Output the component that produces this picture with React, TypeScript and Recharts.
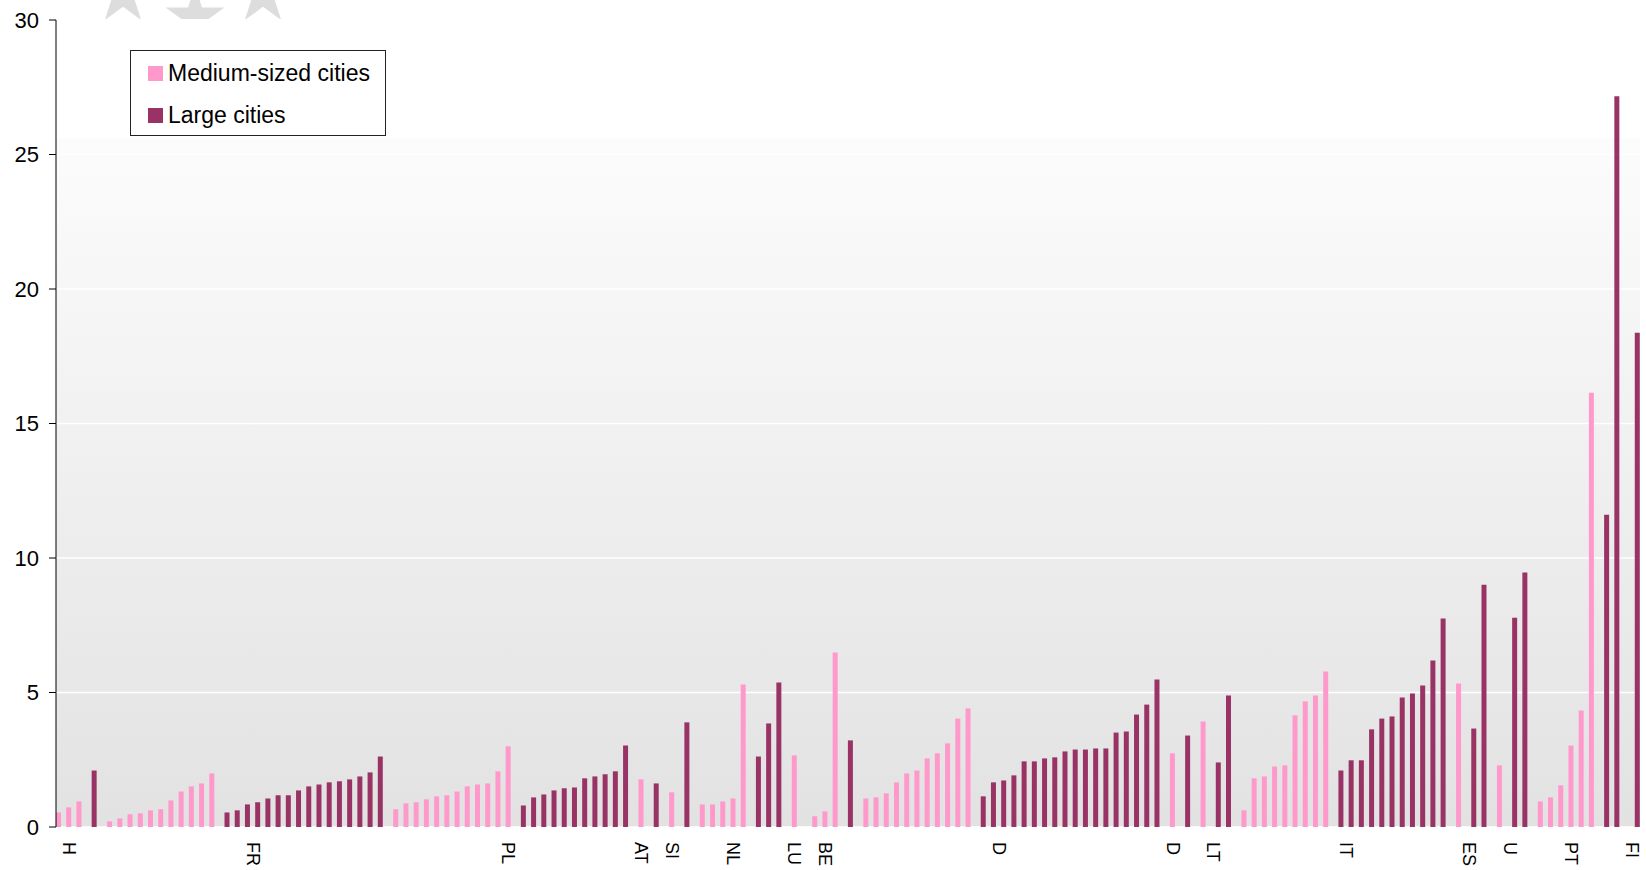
import React from 'react';
import { BarChart, Bar, XAxis, YAxis, CartesianGrid, Legend } from 'recharts';

// country groups, left to right
const countries = ['H', 'FR', 'PL', 'AT', 'SI', 'NL', 'LU', 'BE', 'D', 'D', 'LT', 'IT', 'ES', 'U', 'PT', 'FI'];
// which bar of the group carries the country label
const labelSlot = [1, 14, 11, 0, 0, 3, 0, 1, 13, 0, 1, 10, 1, 1, 3, 0];

const mediumCities: number[][] = [
  [0.54, 0.73, 0.95],
  [0.21, 0.32, 0.47, 0.51, 0.62, 0.66, 0.99, 1.32, 1.51, 1.62, 1.99],
  [0.66, 0.88, 0.92, 1.03, 1.14, 1.18, 1.32, 1.51, 1.58, 1.62, 2.07, 3.0],
  [1.77],
  [1.29],
  [0.84, 0.84, 0.95, 1.06, 5.3],
  [2.66],
  [0.4, 0.58, 6.49],
  [1.06, 1.1, 1.25, 1.66, 1.99, 2.1, 2.55, 2.74, 3.11, 4.03, 4.41],
  [2.74],
  [3.92],
  [0.62, 1.81, 1.88, 2.25, 2.29, 4.15, 4.67, 4.89, 5.78],
  [5.33],
  [2.29],
  [0.95, 1.1, 1.55, 3.03, 4.33, 16.14],
  [],
];

const largeCities: number[][] = [
  [2.1],
  [0.54, 0.62, 0.84, 0.92, 1.06, 1.18, 1.18, 1.36, 1.51, 1.58, 1.66, 1.7, 1.77, 1.88, 2.03, 2.62],
  [0.8, 1.1, 1.21, 1.36, 1.44, 1.47, 1.81, 1.88, 1.96, 2.07, 3.03],
  [1.62],
  [3.89],
  [2.62, 3.85, 5.37],
  [],
  [3.22],
  [1.14, 1.66, 1.73, 1.92, 2.44, 2.44, 2.55, 2.59, 2.81, 2.88, 2.88, 2.92, 2.92, 3.51, 3.55, 4.18, 4.55, 5.48],
  [3.4],
  [2.4, 4.89],
  [2.1, 2.48, 2.48, 3.63, 4.03, 4.11, 4.81, 4.96, 5.26, 6.19, 7.75],
  [3.66, 9.01],
  [7.78, 9.46],
  [11.61, 27.17],
  [18.37],
];

const yTicks = [0, 5, 10, 15, 20, 25, 30];

type Row = { label: string; medium: number | null; large: number | null };

// one bar per row, an empty row between countries
const rows: Row[] = [];
countries.forEach((c, g) => {
  const start = rows.length;
  mediumCities[g].forEach((v) => rows.push({ label: '', medium: v, large: null }));
  largeCities[g].forEach((v) => rows.push({ label: '', medium: null, large: v }));
  rows[start + labelSlot[g]].label = c;
  if (g < countries.length - 1) rows.push({ label: '', medium: null, large: null });
});

const FONT = '"Liberation Sans", Arial, sans-serif';
const PINK = '#ff99cc';
const PLUM = '#993366';

const CountryTick = ({ x, y, payload }: any) => {
  if (!payload || !payload.value) return <g />;
  const ty = y + 7;
  return (
    <text
      x={x}
      y={ty}
      dy={8.5}
      transform={`rotate(90 ${x} ${ty})`}
      textAnchor="start"
      fontSize={18}
      fontFamily={FONT}
      fill="#000"
    >
      {payload.value}
    </text>
  );
};

const LegendBox = () => (
  <svg width={256} height={86} style={{ display: 'block' }}>
    <rect x={0.5} y={0.5} width={255} height={85} fill="#fff" stroke="#222" />
    <rect x={18} y={16} width={15} height={15} fill={PINK} />
    <text x={38} y={31} fontSize={23} fontFamily={FONT} fill="#000">Medium-sized cities</text>
    <rect x={18} y={58} width={15} height={15} fill={PLUM} />
    <text x={38} y={73} fontSize={23} fontFamily={FONT} fill="#000">Large cities</text>
  </svg>
);

// bottom of the star circle peeking in above the plot
const starPoints = (cx: number, cy: number, R: number) => {
  const r = R * 0.382;
  const pts: string[] = [];
  for (let i = 0; i < 10; i++) {
    const a = -Math.PI / 2 + (i * Math.PI) / 5;
    const rad = i % 2 === 0 ? R : r;
    pts.push(`${cx + rad * Math.cos(a)},${cy + rad * Math.sin(a)}`);
  }
  return pts.join(' ');
};

export default function App() {
  return (
    <div style={{ position: 'absolute', left: 0, top: 0, width: 1646, height: 870, background: '#fff', fontFamily: FONT }}>
      <svg width={400} height={19} style={{ position: 'absolute', left: 0, top: 0, pointerEvents: 'none' }}>
        <polygon points={starPoints(123, -5, 31)} fill="#dddddd" />
        <polygon points={starPoints(195, 17, 31)} fill="#dddddd" />
        <polygon points={starPoints(263, -5, 31)} fill="#dddddd" />
      </svg>
      <BarChart
        width={1646}
        height={870}
        data={rows}
        margin={{ top: 20, right: 6, left: 0, bottom: 0 }}
        barCategoryGap={0}
        barGap={0}
      >
        <defs>
          <linearGradient id="plotBg" x1="0" y1="0" x2="0" y2="1">
            <stop offset="0" stopColor="#ffffff" />
            <stop offset="0.146" stopColor="#ffffff" />
            <stop offset="0.146" stopColor="#fcfcfc" />
            <stop offset="1" stopColor="#e2e2e2" />
          </linearGradient>
        </defs>
        <CartesianGrid vertical={false} stroke="#ffffff" strokeWidth={1.5} fill="url(#plotBg)" fillOpacity={1} />
        <XAxis
          dataKey="label"
          interval={0}
          height={43}
          tick={<CountryTick />}
          tickLine={false}
          axisLine={false}
        />
        <YAxis
          domain={[0, 30]}
          ticks={yTicks}
          width={56}
          tickSize={7}
          tickMargin={10}
          axisLine={{ stroke: '#000' }}
          tickLine={{ stroke: '#000' }}
          tick={{ fontSize: 22, fill: '#000', fontFamily: FONT }}
        />
        <Legend
          layout="vertical"
          align="center"
          verticalAlign="middle"
          wrapperStyle={{ top: 50, left: 130, width: 256 }}
          content={<LegendBox />}
        />
        <Bar dataKey="medium" name="Medium-sized cities" fill={PINK} isAnimationActive={false} />
        <Bar dataKey="large" name="Large cities" fill={PLUM} isAnimationActive={false} />
      </BarChart>
    </div>
  );
}
